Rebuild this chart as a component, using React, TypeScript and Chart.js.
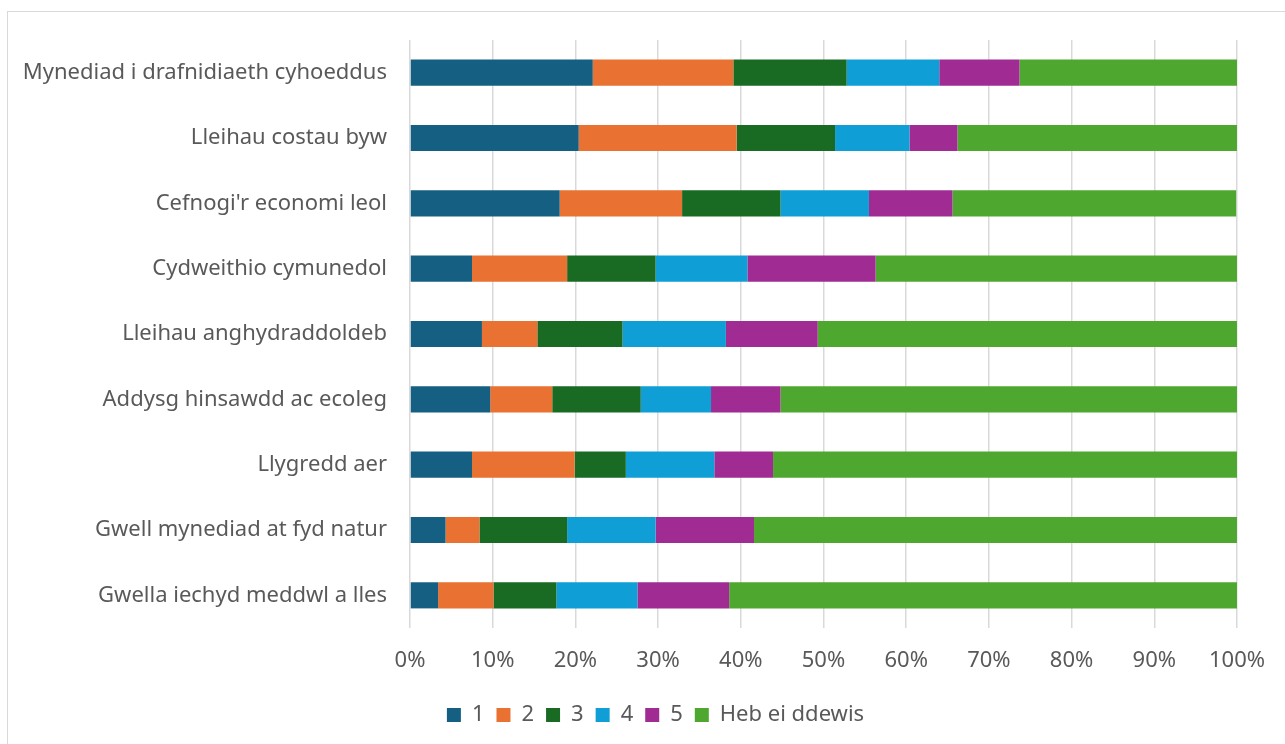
import React, { useEffect, useRef } from "react";
import { Chart, registerables } from "chart.js";

Chart.register(...registerables);

const categories = [
  "Mynediad i drafnidiaeth cyhoeddus",
  "Lleihau costau byw",
  "Cefnogi'r economi leol",
  "Cydweithio cymunedol",
  "Lleihau anghydraddoldeb",
  "Addysg hinsawdd ac ecoleg",
  "Llygredd aer",
  "Gwell mynediad at fyd natur",
  "Gwella iechyd meddwl a lles",
];

const seriesLabels = ["1", "2", "3", "4", "5", "Heb ei ddewis"];

const s1 = [22.1, 20.4, 18.1, 7.5, 8.7, 9.7, 7.5, 4.3, 3.4];
const s2 = [17.0, 19.1, 14.8, 11.5, 6.7, 7.5, 12.4, 4.1, 6.7];
const s3 = [13.7, 11.9, 11.9, 10.7, 10.3, 10.7, 6.2, 10.6, 7.6];
const s4 = [11.2, 9.0, 10.7, 11.1, 12.5, 8.5, 10.7, 10.7, 9.8];
const s5 = [9.7, 5.8, 10.1, 15.5, 11.1, 8.4, 7.1, 11.9, 11.1];
const s6 = [26.3, 33.8, 34.3, 43.7, 50.7, 55.2, 56.1, 58.4, 61.4];

const colors = ["#156082", "#E97132", "#196B24", "#0F9ED5", "#A02B93", "#4EA72E"];

const FONT = "'Noto Sans', sans-serif";

const shiftLegend = {
  id: "shiftLegend",
  afterLayout(chart: any) {
    const l = chart.legend;
    if (l) {
      l.left += 37;
      l.right += 37;
    }
  },
};

export default function App() {
  const ref = useRef<HTMLCanvasElement | null>(null);

  useEffect(() => {
    if (!ref.current) return;
    const all = [s1, s2, s3, s4, s5, s6];
    const chart = new Chart(ref.current, {
      type: "bar",
      data: {
        labels: categories,
        datasets: all.map((d, i) => ({
          label: seriesLabels[i],
          data: d,
          backgroundColor: colors[i],
          borderWidth: 0,
          categoryPercentage: 1,
          barPercentage: 0.4,
        })),
      },
      options: {
        indexAxis: "y",
        animation: false,
        responsive: false,
        maintainAspectRatio: false,
        layout: { padding: { top: 40, right: 48, bottom: 8, left: 0 } },
        plugins: {
          tooltip: { enabled: false },
          legend: {
            position: "bottom",
            labels: {
              boxWidth: 14,
              boxHeight: 14,
              padding: 12,
              color: "#595959",
              font: { family: FONT, size: 22 },
            },
          },
        },
        scales: {
          x: {
            stacked: true,
            min: 0,
            max: 100,
            afterFit: (s: any) => {
              s.height = 64;
            },
            ticks: {
              stepSize: 10,
              padding: 20,
              color: "#595959",
              font: { family: FONT, size: 22 },
              callback: (v: any) => v + "%",
            },
            grid: { color: "#d9d9d9", lineWidth: 1.5, drawTicks: false },
            border: { display: false },
          },
          y: {
            stacked: true,
            afterFit: (s: any) => {
              s.width = 410;
            },
            ticks: {
              padding: 23,
              color: "#595959",
              font: { family: FONT, size: 22 },
            },
            grid: { display: false, drawTicks: false },
            border: { display: false },
          },
        },
      },
      plugins: [shiftLegend],
    });
    return () => chart.destroy();
  }, []);

  return (
    <div
      style={{
        position: "fixed",
        left: 0,
        top: 0,
        width: 1285,
        height: 744,
        overflow: "hidden",
        background: "#fff",
      }}
    >
      <div
        style={{
          position: "absolute",
          left: 7,
          top: 11,
          width: 1300,
          height: 760,
          border: "1px solid #d9d9d9",
          boxSizing: "border-box",
        }}
      />
      <canvas
        ref={ref}
        width={1285}
        height={744}
        style={{ position: "absolute", left: 0, top: 0, width: 1285, height: 744 }}
      />
    </div>
  );
}
